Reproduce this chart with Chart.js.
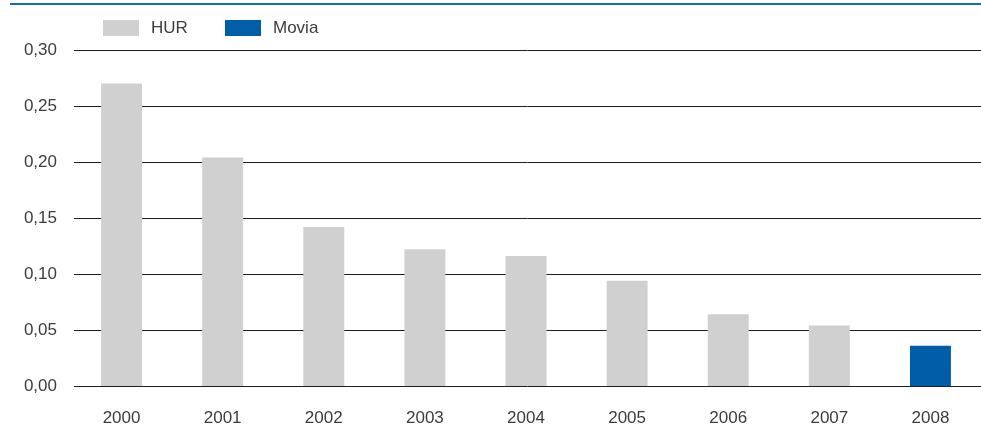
<!DOCTYPE html>
<html>
<head>
<meta charset="utf-8">
<script src="https://cdn.jsdelivr.net/npm/chart.js@4/dist/chart.umd.min.js"></script>
<style>
  html, body { margin: 0; padding: 0; background: #fff; }
  #wrap { width: 981px; height: 439px; position: relative; }
</style>
</head>
<body>
<div id="wrap"><canvas id="chart"></canvas></div>
<script>
const years = ['2000', '2001', '2002', '2003', '2004', '2005', '2006', '2007', '2008'];
const hur = [0.270, 0.204, 0.142, 0.122, 0.116, 0.094, 0.064, 0.054, null];
const movia = [null, null, null, null, null, null, null, null, 0.036];
const yTicks = [0, 0.05, 0.10, 0.15, 0.20, 0.25, 0.30];

const grey = '#d0d0d0';
const blue = '#005ea8';
const textColor = '#3c3c3c';
const font = { family: '"Liberation Sans", Arial, sans-serif', size: 17 };

// horizontal rules behind the bars, starting a little right of the plot edge
const rules = {
  id: 'rules',
  beforeDatasetsDraw(chart) {
    const ctx = chart.ctx;
    const y = chart.scales.y;
    ctx.save();
    ctx.strokeStyle = '#1e1e1e';
    ctx.lineWidth = 1;
    yTicks.forEach(v => {
      const py = Math.round(y.getPixelForValue(v)) + 0.5;
      ctx.beginPath();
      ctx.moveTo(74, py);
      ctx.lineTo(chart.width, py);
      ctx.stroke();
    });
    ctx.restore();
  }
};

// blue rule across the top plus a simple legend row
const topDecor = {
  id: 'topDecor',
  afterDraw(chart) {
    const ctx = chart.ctx;
    ctx.save();
    ctx.fillStyle = '#1a68ad';
    ctx.fillRect(10, 3, chart.width - 10, 2);

    ctx.font = font.size + 'px ' + font.family;
    ctx.textBaseline = 'middle';
    let x = 103;
    chart.data.datasets.forEach(ds => {
      ctx.fillStyle = ds.backgroundColor;
      ctx.fillRect(x, 20, 36, 16);
      ctx.fillStyle = textColor;
      ctx.fillText(ds.label, x + 48, 28.5);
      x += 122;
    });
    ctx.restore();
  }
};

new Chart(document.getElementById('chart'), {
  type: 'bar',
  data: {
    labels: years,
    datasets: [
      { label: 'HUR', data: hur, backgroundColor: grey },
      { label: 'Movia', data: movia, backgroundColor: blue }
    ]
  },
  options: {
    responsive: true,
    maintainAspectRatio: false,
    animation: false,
    layout: { padding: { top: 50, left: 0, right: -1, bottom: 0 } },
    datasets: { bar: { grouped: false, categoryPercentage: 1, barPercentage: 0.405 } },
    plugins: { legend: { display: false }, tooltip: { enabled: false } },
    scales: {
      x: {
        grid: { display: false },
        border: { display: false },
        ticks: { color: textColor, font: font, padding: 14, maxRotation: 0 },
        afterFit(scale) { scale.height = 53; }
      },
      y: {
        min: 0,
        max: 0.30,
        afterBuildTicks(scale) { scale.ticks = yTicks.map(v => ({ value: v })); },
        grid: { display: false, drawTicks: false },
        border: { display: false },
        ticks: {
          color: textColor,
          font: font,
          padding: 14,
          callback: v => v.toFixed(2).replace('.', ',')
        },
        afterFit(scale) { scale.width = 71; }
      }
    }
  },
  plugins: [rules, topDecor]
});
</script>
</body>
</html>
